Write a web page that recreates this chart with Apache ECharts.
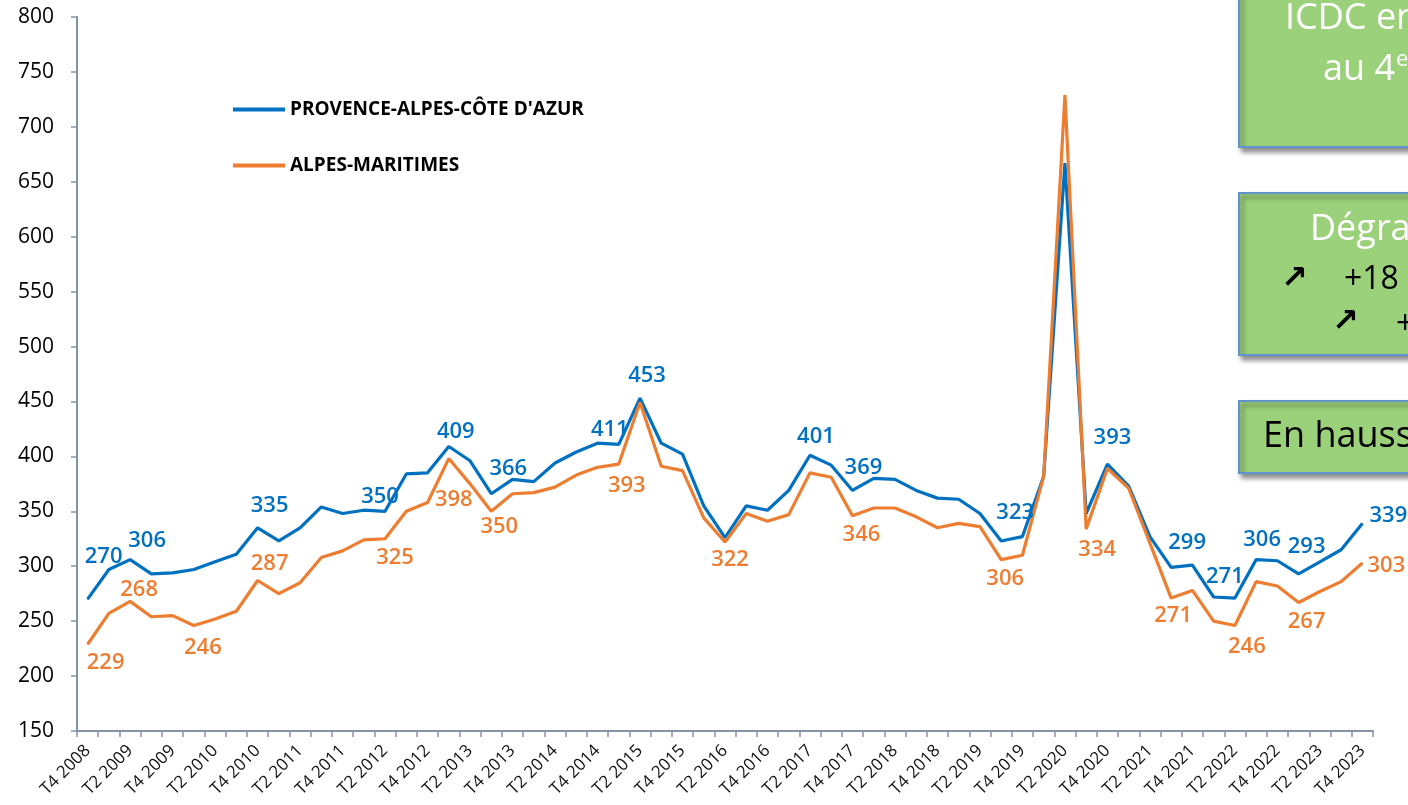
<!DOCTYPE html>
<html>
<head>
<meta charset="utf-8">
<script src="https://cdn.jsdelivr.net/npm/echarts@6/dist/echarts.min.js"></script>
<style>
html,body{margin:0;padding:0;background:#fff;}
#chart{width:1408px;height:805px;}
</style>
</head>
<body>
<div id="chart"></div>
<script>
// quarters T4 2008 .. T4 2023
const firstYear = 2009
const lastYear = 2023
const quarters = ['T4 2008']
for (let y = firstYear; y <= lastYear; y++) {
    for (let q = 1; q <= 4; q++) quarters.push('T' + q + ' ' + y)
}

const pacaName = "PROVENCE-ALPES-CÔTE D'AZUR"
const amName = 'ALPES-MARITIMES'

const pacaValues = [270, 297, 306, 293, 294, 297, 304, 311, 335, 323,
    335, 354, 348, 351, 350, 384, 385, 409, 396, 366,
    379, 377, 394, 404, 412, 411, 453, 412, 402, 355,
    326, 355, 351, 369, 401, 392, 369, 380, 379, 369,
    362, 361, 348, 323, 327, 382, 667, 348, 393, 373,
    327, 299, 301, 272, 271, 306, 305, 293, 304, 315, 339]

const amValues = [229, 257, 268, 254, 255, 246, 252, 259, 287, 275,
    285, 308, 314, 324, 325, 350, 358, 398, 375, 350,
    366, 367, 372, 383, 390, 393, 449, 391, 387, 344,
    322, 348, 341, 347, 385, 381, 346, 353, 353, 345,
    335, 339, 336, 306, 310, 382, 729, 334, 389, 371,
    321, 271, 278, 250, 246, 286, 282, 267, 277, 286, 303]

const yTicks = {min: 150, max: 800, step: 50}

// which points carry a value label, and where the label sits (dx, dy from the point)
const pacaLabelAt = [[0,16,-42],[2,17,-19],[8,12,-22],[14,-5,-15],[17,7,-15],[19,17,-25],
    [25,-9,-15],[26,7,-22],[34,6,-19],[36,11,-23],[43,14,-28],[48,5,-26],[51,16,-25],
    [54,-10,-21],[55,6,-20],[57,8,-27],[60,26,-8]]
const amLabelAt = [[0,18,19],[2,9,-12],[5,9,22],[8,12,-17],[14,10,19],[17,5,41],[19,8,15],
    [25,8,22],[30,5,18],[36,9,19],[43,4,19],[47,11,21],[51,2,18],[54,12,21],[57,8,19],[60,24,3]]

const BLUE = '#0070c0'
const ORANGE = '#ed7d31'
const AXIS = '#8593aa'
const FONT = "'Open Sans', 'DejaVu Sans', sans-serif"

function withLabels(values, labelAt, color) {
    const data = values.map(v => ({value: v}))
    labelAt.forEach(([i, dx, dy]) => {
        data[i].label = {
            show: true,
            position: 'inside',
            offset: [dx, dy],
            color: color,
            fontFamily: FONT,
            fontSize: 22,
            fontWeight: 600
        }
    })
    return data
}

function lineSeries(name, values, labelAt, color) {
    return {
        name: name,
        type: 'line',
        data: withLabels(values, labelAt, color),
        symbol: 'circle',
        symbolSize: 1,
        showSymbol: true,
        itemStyle: {color: color},
        lineStyle: {color: color, width: 3.2},
        label: {show: false},
        emphasis: {disabled: true}
    }
}

let myChart = echarts.init(document.getElementById('chart'))

const boxStyle = {
    fill: '#9cd17c',
    stroke: '#5f92cf',
    lineWidth: 2,
    shadowBlur: 5,
    shadowOffsetX: 3,
    shadowOffsetY: 4,
    shadowColor: 'rgba(0,0,0,0.45)'
}
function boxText(text, x, y, size, fill, weight) {
    return {
        type: 'text',
        z: 10,
        style: {
            text: text, x: x, y: y,
            fontFamily: FONT, fontSize: size, fontWeight: weight || 'normal',
            fill: fill, align: 'left', verticalAlign: 'middle'
        }
    }
}

let option = {
    animation: false,
    backgroundColor: '#ffffff',
    grid: {
        left: 77, right: 35, top: 17, bottom: 74,
        containLabel: false,
        outerBoundsMode: 'none'
    },
    legend: {
        orient: 'vertical',
        left: 228,
        top: 94,
        icon: 'rect',
        itemWidth: 52,
        itemHeight: 4,
        itemGap: 35,
        data: [pacaName, amName],
        textStyle: {
            fontFamily: FONT,
            fontSize: 19,
            fontWeight: 'bold',
            color: '#000',
            lineHeight: 21
        }
    },
    xAxis: {
        type: 'category',
        data: quarters,
        boundaryGap: true,
        axisLine: {show: true, lineStyle: {color: AXIS, width: 2}},
        axisTick: {show: true, interval: 0, length: 6, inside: false, lineStyle: {color: AXIS, width: 1.5}},
        axisLabel: {
            interval: 1,
            rotate: 45,
            margin: 17,
            fontFamily: FONT,
            fontSize: 17,
            color: '#111'
        },
        splitLine: {show: false}
    },
    yAxis: {
        type: 'value',
        min: yTicks.min,
        max: yTicks.max,
        interval: yTicks.step,
        axisLine: {show: true, lineStyle: {color: AXIS, width: 2}},
        axisTick: {show: true, length: 6, inside: false, lineStyle: {color: AXIS, width: 1.5}},
        axisLabel: {
            margin: 23,
            fontFamily: FONT,
            fontSize: 21,
            color: '#000'
        },
        splitLine: {show: false}
    },
    series: [
        lineSeries(pacaName, pacaValues, pacaLabelAt, BLUE),
        lineSeries(amName, amValues, amLabelAt, ORANGE)
    ],
    graphic: [
        {type: 'rect', z: 5, shape: {x: 1239, y: -20, width: 200, height: 167}, style: boxStyle},
        boxText('ICDC en', 1285, 19, 36, '#ffffff'),
        boxText('au 4', 1323, 70, 36, '#ffffff'),
        boxText('e', 1396, 60, 22, '#ffffff'),

        {type: 'rect', z: 5, shape: {x: 1239, y: 193, width: 200, height: 162}, style: boxStyle},
        boxText('Dégradation', 1310, 230, 36, '#ffffff'),
        boxText('↗', 1281, 279, 32, '#000000', 'bold'),
        boxText('+18', 1344, 280, 32, '#000000'),
        boxText('↗', 1332, 322, 32, '#000000', 'bold'),
        boxText('+', 1396, 325, 32, '#000000'),

        {type: 'rect', z: 5, shape: {x: 1239, y: 401, width: 200, height: 72}, style: boxStyle},
        boxText('En hausse', 1263, 437, 36, '#000000')
    ]
}

myChart.setOption(option)
window.addEventListener('resize', () => {
    myChart.resize()
})
</script>
</body>
</html>
